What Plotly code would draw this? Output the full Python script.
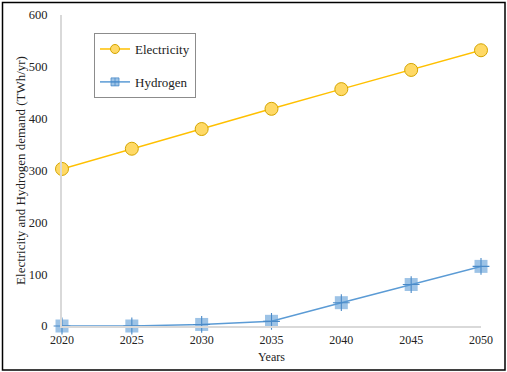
import plotly.graph_objects as go

years = [2020, 2025, 2030, 2035, 2040, 2045, 2050]
electricity = [303, 342, 380, 419, 457, 494, 532]
hydrogen = [0, 0, 3, 9, 45, 80, 115]

W, H = 507, 372
L, R, T, B = 62, 26, 15, 46
pw, ph = W - L - R, H - T - B

FAM = "Liberation Serif, Times New Roman, serif"
E_LINE, E_FILL, E_EDGE = "#FFC000", "#FFD966", "#D4A500"
H_LINE, H_FILL, H_CROSS = "#5B9BD5", "rgba(91,155,213,0.6)", "#4A8AC8"

fig = go.Figure()
fig.add_trace(go.Scatter(
    x=years, y=electricity, name="Electricity", mode="lines+markers", showlegend=False,
    line=dict(color=E_LINE, width=1.5),
    marker=dict(symbol="circle", size=13, color=E_FILL, line=dict(color=E_EDGE, width=1)),
    cliponaxis=False, legendgroup="e"))
fig.add_trace(go.Scatter(
    x=years, y=hydrogen, name="Hydrogen", mode="lines+markers", showlegend=False,
    line=dict(color=H_LINE, width=1.5),
    marker=dict(symbol="square", size=13, color=H_FILL, line=dict(width=0)),
    cliponaxis=False, legendgroup="h"))
fig.add_trace(go.Scatter(
    x=years, y=hydrogen, name="Hydrogen", mode="markers", showlegend=False,
    marker=dict(symbol="cross-thin", size=12, line=dict(color=H_CROSS, width=1.1)),
    cliponaxis=False, legendgroup="h"))
# legend-only entries with smaller symbols
fig.add_trace(go.Scatter(
    x=[None], y=[None], name="Electricity", mode="lines+markers", legendgroup="e",
    line=dict(color=E_LINE, width=1.5),
    marker=dict(symbol="circle", size=9, color=E_FILL, line=dict(color=E_EDGE, width=1))))
fig.add_trace(go.Scatter(
    x=[None], y=[None], name="Hydrogen", mode="lines+markers", legendgroup="h",
    line=dict(color=H_LINE, width=1.5),
    marker=dict(symbol="square-cross", size=8, color=H_FILL, line=dict(color=H_CROSS, width=0.8))))

fig.update_layout(
    width=W, height=H, margin=dict(l=L, r=R, t=T, b=B, autoexpand=False),
    paper_bgcolor="white", plot_bgcolor="white",
    font=dict(family=FAM, size=12, color="#222222"),
    showlegend=True,
    legend=dict(x=(94 - L) / pw, y=0.942, xanchor="left", yanchor="top",
                bgcolor="white", bordercolor="#8C8C8C", borderwidth=1,
                font=dict(family=FAM, size=13, color="#222222"), tracegroupgap=13,
                itemwidth=30),
    xaxis=dict(range=[2020, 2050], tickvals=years, showgrid=False, zeroline=False,
               showline=True, linecolor="#D9D9D9", linewidth=1.5, ticks="",
               ticklabelstandoff=2, automargin=False,
               title=dict(text="Years", standoff=6, font=dict(family=FAM, size=12)),
               tickfont=dict(family=FAM, size=12, color="#222222")),
    yaxis=dict(range=[0, 600], dtick=100, showgrid=False, zeroline=False,
               showline=True, linecolor="#D9D9D9", linewidth=2, ticks="",
               ticklabelstandoff=10, automargin=False,
               title=dict(text="Electricity and Hydrogen demand (TWh/yr)", standoff=0,
                          font=dict(family=FAM, size=13)),
               tickfont=dict(family=FAM, size=12.5, color="#222222")),
)

fig.add_shape(type="rect", xref="paper", yref="paper",
              x0=(2.5 - L) / pw, x1=(505 - L) / pw,
              y0=1 - (370 - T) / ph, y1=1 - (2.5 - T) / ph,
              line=dict(color="black", width=1.5), fillcolor="rgba(0,0,0,0)", layer="above")

fig.write_html("out.html", config={"displayModeBar": False},
               post_script="document.body.style.margin='0';document.body.style.overflow='hidden';")
